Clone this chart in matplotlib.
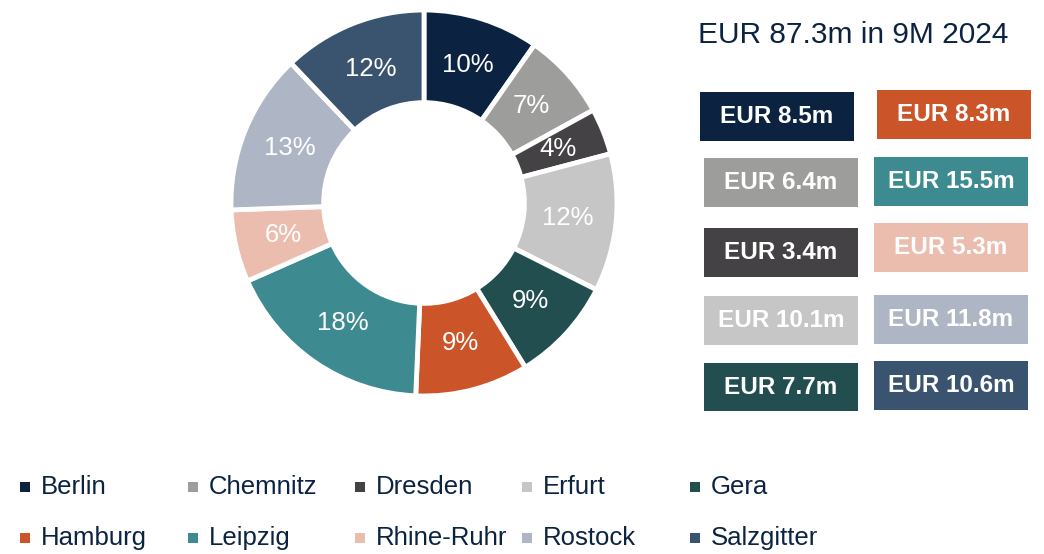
import matplotlib
matplotlib.use("Agg")
import matplotlib.pyplot as plt
from matplotlib.patches import Rectangle
from matplotlib import font_manager

# ---- data ----
cities = ["Berlin", "Chemnitz", "Dresden", "Erfurt", "Gera",
          "Hamburg", "Leipzig", "Rhine-Ruhr", "Rostock", "Salzgitter"]
values = [8.5, 6.4, 3.4, 10.1, 7.7, 8.3, 15.5, 5.3, 11.8, 10.6]
value_labels = ["EUR 8.5m", "EUR 6.4m", "EUR 3.4m", "EUR 10.1m", "EUR 7.7m",
                "EUR 8.3m", "EUR 15.5m", "EUR 5.3m", "EUR 11.8m", "EUR 10.6m"]
title_text = "EUR 87.3m in 9M 2024"
colors = ["#0B2341", "#9D9D9B", "#444244", "#C6C6C6", "#224E50",
          "#CB5428", "#3D8B91", "#EBBDAE", "#AEB5C5", "#3A546F"]

NAVY = "#0B2341"

avail = {f.name for f in font_manager.fontManager.ttflist}
narrow = "Liberation Sans Narrow" if "Liberation Sans Narrow" in avail else "Liberation Sans"
plt.rcParams['font.family'] = [narrow, "DejaVu Sans"]

W, H = 1044, 554
fig = plt.figure(figsize=(W / 100, H / 100), dpi=100)

# donut axes
cx, cy, R = 424, 203, 193
ax = fig.add_axes([(cx - R) / W, (H - cy - R) / H, 2 * R / W, 2 * R / H])
wedges, texts, autotexts = ax.pie(
    values, colors=colors, startangle=90, counterclock=False,
    radius=1.0, autopct="%.0f%%", pctdistance=0.75,
    wedgeprops=dict(width=0.48, edgecolor="white", linewidth=3.5),
    textprops=dict(color="white", fontsize=18.5))
ax.set_xlim(-1, 1)
ax.set_ylim(-1, 1)
ax.set_aspect("equal")
ax.axis("off")

# overlay axes in pixel coords
ov = fig.add_axes([0, 0, 1, 1], facecolor="none")
ov.set_xlim(0, W)
ov.set_ylim(H, 0)
ov.axis("off")

ov.text(853, 35, title_text, ha="center", va="center", fontsize=21.5, color=NAVY)

# value boxes: left column then right column
left_boxes = [(700, 92, 154, 49), (704, 158, 154, 49), (704, 228, 154, 49),
              (704, 296, 154, 49), (704, 363, 154, 48)]
right_boxes = [(877, 90, 154, 49), (874, 157, 154, 49), (874, 223, 154, 49),
               (874, 295, 154, 49), (874, 361, 154, 49)]
boxes = left_boxes + right_boxes
for (x, y, w, h), lab, col in zip(boxes, value_labels, colors):
    ov.add_patch(Rectangle((x, y), w, h, facecolor=col, edgecolor="none"))
    ov.text(x + w / 2, y + h / 2, lab, ha="center", va="center",
            fontsize=17.5, fontweight="bold", color="white")

# legend
leg_x = [20, 188, 355, 522, 690]
leg_y = [487, 538]
for i, (name, col) in enumerate(zip(cities, colors)):
    x = leg_x[i % 5]
    y = leg_y[i // 5]
    ov.add_patch(Rectangle((x, y - 5), 10, 10, facecolor=col, edgecolor="none"))
    ov.text(x + 21, y, name, ha="left", va="center", fontsize=18.5, color=NAVY)

fig.savefig("out.png", dpi=100, facecolor="white")
